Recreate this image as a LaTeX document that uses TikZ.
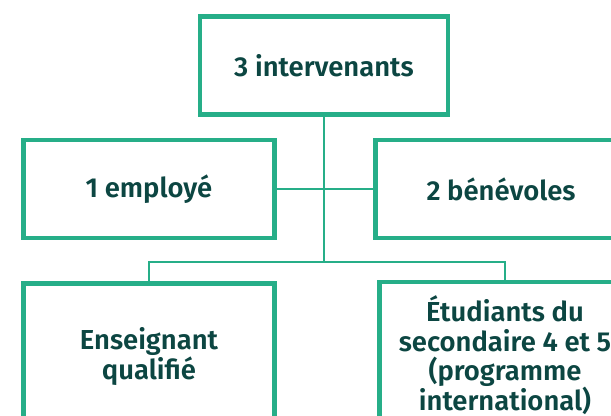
\documentclass[tikz,border=0pt]{standalone}
\usepackage{fontspec}
\setmainfont{Fira Sans}[BoldFont={Fira Sans SemiBold}]
\usepackage{xcolor}
\usetikzlibrary{positioning}
\definecolor{boxgreen}{RGB}{38,174,136}
\definecolor{inkteal}{RGB}{12,70,66}
\tikzset{
  box/.style={draw=boxgreen, line width=3.5pt, fill=white, align=center, text=inkteal,
    font=\fontsize{19.5}{21}\selectfont\bfseries, inner sep=4pt},
  role/.style={box, minimum width=6.275cm, minimum height=2.45cm},
  link/.style={draw=boxgreen, line width=2pt},
}

\begin{document}
\begin{tikzpicture}[x=0.025cm, y=-0.025cm]
  \useasboundingbox (0,0) rectangle (611,415);
  \node[box, minimum width=6.2cm, minimum height=2.45cm] (top) at (324,65.5) {3 intervenants};
  \node[role] (staff) at (149,189) {1 employé};
  \node[role] (volunteers) at (501,189) {2 bénévoles};
  \node[role, minimum height=3.65cm] (teacher) at (149,356.5) {Enseignant\\qualifié};
  \node[role, minimum height=3.65cm] (students) at (505,355) {Étudiants du\\secondaire 4 et 5\\(programme\\international)};
  \coordinate (split) at (324,262);
  \draw[link] (top.south) -- (split);
  \draw[link] (staff.east) -- (volunteers.west);
  \draw[link] (teacher.north) |- (split) -| (students.north);
\end{tikzpicture}
\end{document}
